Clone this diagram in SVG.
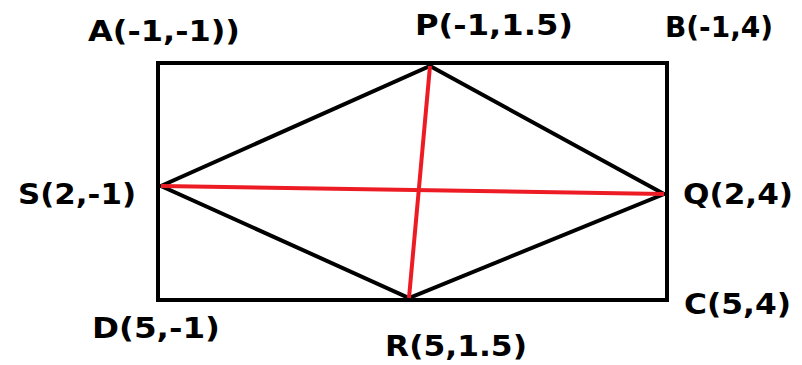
<svg xmlns="http://www.w3.org/2000/svg" width="802" height="365" viewBox="0 0 802 365">
<style>
.lbl{font-family:"DejaVu Sans",Tahoma,sans-serif;font-weight:bold;font-size:28px;fill:#000}
.blk{stroke:#000;stroke-width:4;fill:none;stroke-linejoin:miter}
.red{stroke:#ed1c24;stroke-width:4;fill:none}
</style>
<rect width="802" height="365" fill="#fff"/>
<g id="edges">
<rect class="blk" x="158" y="63" width="509" height="237"/>
<polygon class="blk" points="430,66 664,194 409,298 161,186"/>
<line class="red" x1="430" y1="66" x2="409" y2="298"/>
<line class="red" x1="161" y1="186" x2="664" y2="194"/>
</g>
<g id="A"><text class="lbl" x="88" y="41" textLength="152" lengthAdjust="spacingAndGlyphs">A(-1,-1))</text></g>
<g id="P"><text class="lbl" x="415" y="35" textLength="158" lengthAdjust="spacingAndGlyphs">P(-1,1.5)</text></g>
<g id="B"><text class="lbl" x="665" y="37" textLength="108" lengthAdjust="spacingAndGlyphs">B(-1,4)</text></g>
<g id="S"><text class="lbl" x="18" y="204" textLength="118" lengthAdjust="spacingAndGlyphs">S(2,-1)</text></g>
<g id="Q"><text class="lbl" x="683" y="204" textLength="110" lengthAdjust="spacingAndGlyphs">Q(2,4)</text></g>
<g id="D"><text class="lbl" x="92" y="338" textLength="128" lengthAdjust="spacingAndGlyphs">D(5,-1)</text></g>
<g id="R"><text class="lbl" x="385" y="356" textLength="142" lengthAdjust="spacingAndGlyphs">R(5,1.5)</text></g>
<g id="C"><text class="lbl" x="684" y="314" textLength="107" lengthAdjust="spacingAndGlyphs">C(5,4)</text></g>
</svg>
